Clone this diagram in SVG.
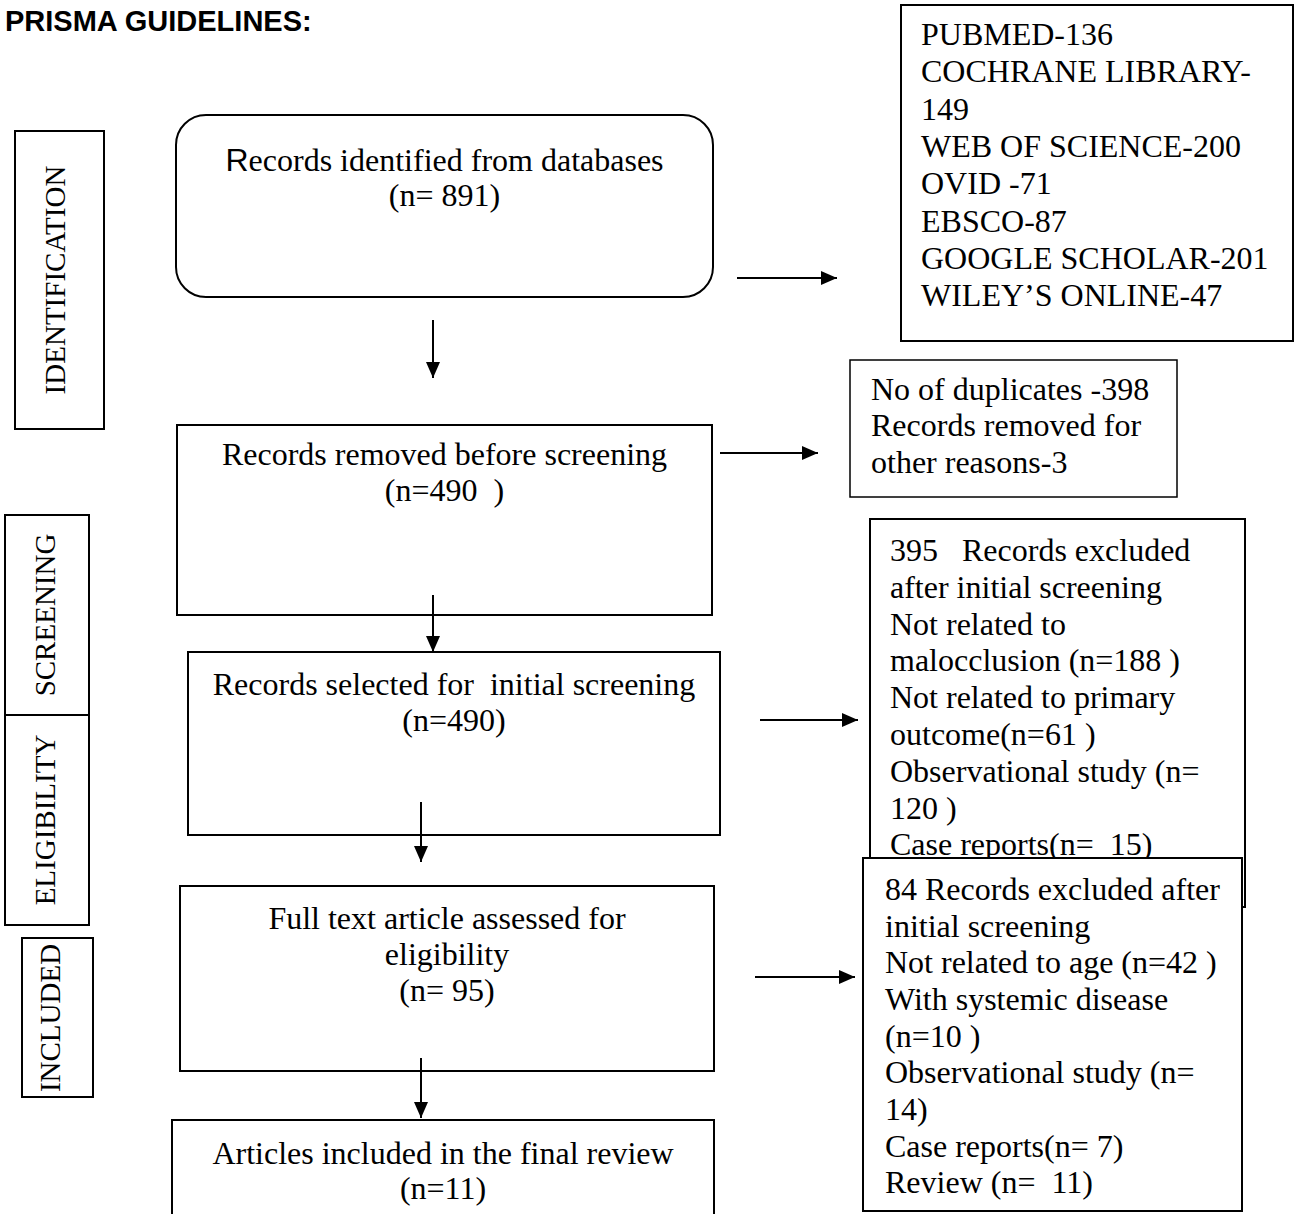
<svg xmlns="http://www.w3.org/2000/svg" width="1294" height="1214" viewBox="0 0 1294 1214">
<style>
  .box { fill: #fff; stroke: #000; stroke-width: 2; }
  .thin { fill: #fff; stroke: #000; stroke-width: 1.5; }
  .t { font-family: "Liberation Serif", "Times New Roman", serif; font-size: 32px; fill: #000; }
  .c { text-anchor: middle; }
  .lab { font-family: "Liberation Serif", "Times New Roman", serif; font-size: 29px; fill: #000; text-anchor: middle; }
  .title { font-family: "Liberation Sans", Arial, sans-serif; font-size: 29px; font-weight: bold; fill: #000; }
  .conn { stroke: #000; stroke-width: 2; fill: none; marker-end: url(#ah); }
</style>
<defs>
  <marker id="ah" viewBox="0 0 16 14" refX="16" refY="7" markerWidth="16" markerHeight="14" markerUnits="userSpaceOnUse" orient="auto">
    <path d="M0,0 L16,7 L0,14 z" fill="#000"/>
  </marker>
</defs>
<rect width="1294" height="1214" fill="#fff"/>

<text class="title" x="5" y="31">PRISMA GUIDELINES:</text>

<g id="label-identification">
  <rect class="box" x="15" y="131" width="89" height="298"/>
  <text class="lab" transform="translate(65,280) rotate(-90)">IDENTIFICATION</text>
</g>
<g id="label-screening">
  <rect class="box" x="5" y="515" width="84" height="200"/>
  <text class="lab" transform="translate(55,615) rotate(-90)">SCREENING</text>
</g>
<g id="label-eligibility">
  <rect class="box" x="5" y="715" width="84" height="210"/>
  <text class="lab" transform="translate(55,820) rotate(-90)">ELIGIBILITY</text>
</g>
<g id="label-included">
  <rect class="box" x="22" y="938" width="71" height="159"/>
  <text class="lab" transform="translate(60,1018) rotate(-90)">INCLUDED</text>
</g>

<g id="databases">
  <rect class="box" x="901" y="5" width="392" height="336"/>
  <text class="t"><tspan x="921" y="45">PUBMED-136</tspan><tspan x="921" y="82">COCHRANE LIBRARY-</tspan><tspan x="921" y="120">149</tspan><tspan x="921" y="157">WEB OF SCIENCE-200</tspan><tspan x="921" y="194">OVID -71</tspan><tspan x="921" y="232">EBSCO-87</tspan><tspan x="921" y="269">GOOGLE SCHOLAR-201</tspan><tspan x="921" y="306">WILEY’S ONLINE-47</tspan></text>
</g>

<g id="identified">
  <rect class="box" x="176" y="115" width="537" height="182" rx="30" ry="30"/>
  <text class="t c"><tspan x="444.5" y="171"><tspan font-family="Liberation Sans, Arial, sans-serif">R</tspan>ecords identified from databases</tspan><tspan x="444.5" y="206">(n= 891)</tspan></text>
</g>

<g id="removed">
  <rect class="box" x="177" y="425" width="535" height="190"/>
  <text class="t c"><tspan x="444.5" y="465">Records removed before screening</tspan><tspan x="444.5" y="501">(n=490 &#160;)</tspan></text>
</g>

<g id="duplicates">
  <rect class="thin" x="850" y="360" width="327" height="137"/>
  <text class="t"><tspan x="871" y="400">No of duplicates -398</tspan><tspan x="871" y="436">Records removed for</tspan><tspan x="871" y="473">other reasons-3</tspan></text>
</g>

<g id="selected">
  <rect class="box" x="188" y="652" width="532" height="183"/>
  <text class="t c"><tspan x="454" y="695">Records selected for &#160;initial screening</tspan><tspan x="454" y="731">(n=490)</tspan></text>
</g>

<g id="excluded-395">
  <rect class="box" x="870" y="519" width="375" height="388"/>
  <text class="t"><tspan x="890" y="561">395 &#160;&#160;Records excluded</tspan><tspan x="890" y="598">after initial screening</tspan><tspan x="890" y="635">Not related to</tspan><tspan x="890" y="671">malocclusion (n=188 )</tspan><tspan x="890" y="708">Not related to primary</tspan><tspan x="890" y="745">outcome(n=61 )</tspan><tspan x="890" y="782">Observational study (n=</tspan><tspan x="890" y="819">120 )</tspan><tspan x="890" y="855">Case reports(n= &#160;15)</tspan></text>
</g>

<g id="fulltext">
  <rect class="box" x="180" y="886" width="534" height="185"/>
  <text class="t c"><tspan x="447" y="929">Full text article assessed for</tspan><tspan x="447" y="965">eligibility</tspan><tspan x="447" y="1001">(n= 95)</tspan></text>
</g>

<g id="excluded-84">
  <rect class="box" x="863" y="858" width="379" height="353"/>
  <text class="t"><tspan x="885" y="900">84 Records excluded after</tspan><tspan x="885" y="937">initial screening</tspan><tspan x="885" y="973">Not related to age (n=42 )</tspan><tspan x="885" y="1010">With systemic disease</tspan><tspan x="885" y="1047">(n=10 )</tspan><tspan x="885" y="1083">Observational study (n=</tspan><tspan x="885" y="1120">14)</tspan><tspan x="885" y="1157">Case reports(n= 7)</tspan><tspan x="885" y="1193">Review (n= &#160;11)</tspan></text>
</g>

<g id="final">
  <rect class="box" x="172" y="1120" width="542" height="110"/>
  <text class="t c"><tspan x="443" y="1164">Articles included in the final review</tspan><tspan x="443" y="1199">(n=11)</tspan></text>
</g>

<g id="connectors">
  <line class="conn" x1="737" y1="278" x2="837" y2="278"/>
  <line class="conn" x1="433" y1="320" x2="433" y2="378"/>
  <line class="conn" x1="720" y1="453" x2="818" y2="453"/>
  <line class="conn" x1="433" y1="595" x2="433" y2="652"/>
  <line class="conn" x1="760" y1="720" x2="858" y2="720"/>
  <line class="conn" x1="421" y1="802" x2="421" y2="862"/>
  <line class="conn" x1="755" y1="977" x2="855" y2="977"/>
  <line class="conn" x1="421" y1="1058" x2="421" y2="1118"/>
</g>
</svg>
